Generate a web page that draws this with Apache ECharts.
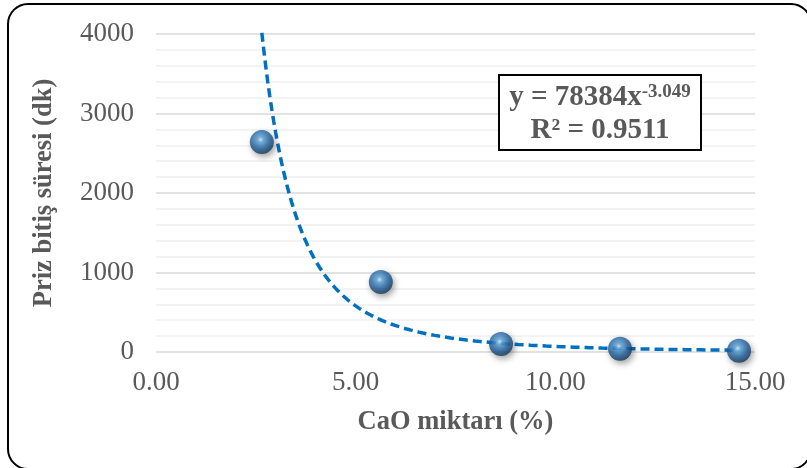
<!DOCTYPE html>
<html>
<head>
<meta charset="utf-8">
<script src="https://cdn.jsdelivr.net/npm/echarts@6/dist/echarts.min.js"></script>
<style>
  html, body { margin: 0; padding: 0; background: #fff; }
  #chart { width: 807px; height: 468px; }
</style>
</head>
<body>
<div id="chart"></div>
<script>
// CaO content (%) and final setting time (min)
var caoPercent = [2.65, 5.63, 8.64, 11.62, 14.6];
var settingTime = [2640, 880, 100, 40, 15];

// Power-law fit shown in the equation box: y = a * x^b
var fitA = 78384;
var fitB = -3.049;
var fitR2 = '0.9511';

var xTicks = { min: 0, max: 15, interval: 5 };
var yTicks = { min: 0, max: 4000, interval: 1000 };

// Trend curve sampled across the measured range
var trend = [];
var x0 = caoPercent[0], x1 = caoPercent[caoPercent.length - 1];
for (var i = 0; i <= 240; i++) {
  var x = x0 + (x1 - x0) * i / 240;
  trend.push([x, fitA * Math.pow(x, fitB)]);
}

var points = caoPercent.map(function (x, i) { return [x, settingTime[i]]; });

var textColor = '#595959';
var serif = '"Liberation Serif", "Times New Roman", serif';

var chart = echarts.init(document.getElementById('chart'), null, { renderer: 'canvas' });
chart.setOption({
  animation: false,
  backgroundColor: '#fff',
  grid: { left: 156, right: 52, top: 34, bottom: 116 },
  xAxis: {
    type: 'value',
    min: xTicks.min, max: xTicks.max, interval: xTicks.interval,
    axisLine: { show: false },
    axisTick: { show: false },
    splitLine: { show: false },
    axisLabel: {
      color: textColor, fontFamily: serif, fontSize: 27, margin: 17,
      formatter: function (v) { return v.toFixed(2); }
    },
    name: 'CaO miktarı (%)',
    nameLocation: 'middle',
    nameGap: 57,
    nameTextStyle: { color: textColor, fontFamily: serif, fontSize: 26.5, fontWeight: 'bold' }
  },
  yAxis: {
    type: 'value',
    min: yTicks.min, max: yTicks.max, interval: yTicks.interval,
    axisLine: { show: false },
    axisTick: { show: false },
    axisLabel: {
      color: textColor, fontFamily: serif, fontSize: 27, margin: 22,
      formatter: function (v) { return String(v); }
    },
    splitLine: { show: true, lineStyle: { color: '#d9d9d9', width: 1.5 } },
    minorTick: { show: false, splitNumber: 5 },
    minorSplitLine: { show: true, lineStyle: { color: '#f0f0f0', width: 1.5 } },
    name: 'Priz bitiş süresi (dk)',
    nameLocation: 'middle',
    nameGap: 98,
    nameTextStyle: { color: textColor, fontFamily: serif, fontSize: 26.5, fontWeight: 'bold' }
  },
  series: [
    {
      type: 'line',
      data: trend,
      showSymbol: false,
      smooth: false,
      lineStyle: { color: '#0070c0', width: 3.5, type: [9, 5], cap: 'butt' },
      z: 2
    },
    {
      type: 'scatter',
      data: points,
      symbol: 'circle',
      symbolSize: 24,
      itemStyle: {
        color: {
          type: 'radial', x: 0.45, y: 0.4, r: 0.62,
          colorStops: [
            { offset: 0, color: '#d4f1ff' },
            { offset: 0.2, color: '#5fa9df' },
            { offset: 0.6, color: '#2565a3' },
            { offset: 1, color: '#10324f' }
          ]
        },
        shadowBlur: 6,
        shadowColor: 'rgba(0,0,0,0.45)',
        shadowOffsetX: 2,
        shadowOffsetY: 3
      },
      z: 3
    }
  ],
  graphic: [
    {
      type: 'rect',
      z: 10,
      shape: { x: 8, y: 4, width: 803, height: 465, r: 20 },
      style: { fill: 'none', stroke: '#000', lineWidth: 2 }
    },
    {
      type: 'rect',
      z: 20,
      shape: { x: 499, y: 75, width: 202, height: 75 },
      style: { fill: '#ffffff', stroke: '#000', lineWidth: 2 }
    },
    {
      type: 'text',
      z: 21,
      x: 600, y: 98,
      style: {
        text: '{b|y = ' + fitA + 'x}{s|' + fitB + '}',
        align: 'center', verticalAlign: 'middle',
        fill: textColor,
        rich: {
          b: { fontFamily: serif, fontSize: 29, fontWeight: 'bold', fill: textColor },
          s: { fontFamily: serif, fontSize: 19, fontWeight: 'bold', fill: textColor, verticalAlign: 'top', padding: [0, 0, 12, 0] }
        }
      }
    },
    {
      type: 'text',
      z: 21,
      x: 600, y: 131,
      style: {
        text: 'R² = ' + fitR2,
        align: 'center', verticalAlign: 'middle',
        fontFamily: serif, fontSize: 29, fontWeight: 'bold', fill: textColor
      }
    }
  ]
});
</script>
</body>
</html>
